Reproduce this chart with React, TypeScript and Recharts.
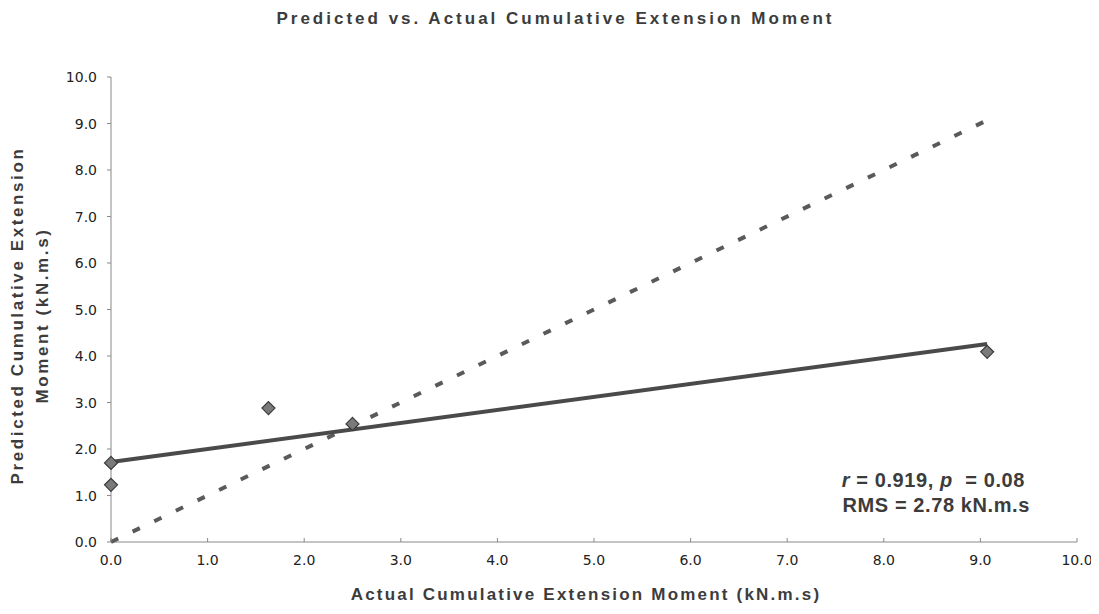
import React from 'react';
import { ScatterChart, Scatter, XAxis, YAxis } from 'recharts';

// measured moments (kN.m.s)
const actualMoment = [0, 0, 1.63, 2.5, 9.07];
const predictedMoment = [1.23, 1.7, 2.88, 2.54, 4.09];

// least-squares fit end points and the line of identity
const fitX = [0, 9.07];
const fitY = [1.72, 4.26];
const identityX = [0, 9.1];
const identityY = [0, 9.1];

const axisTicks = [0, 1, 2, 3, 4, 5, 6, 7, 8, 9, 10];

const chartTitle = 'Predicted vs. Actual Cumulative Extension Moment';
const xTitle = 'Actual Cumulative Extension Moment (kN.m.s)';
const yTitleLines = ['Predicted Cumulative Extension', 'Moment (kN.m.s)'];
const statsLine = 'RMS = 2.78 kN.m.s';

const toPoints = (xs: number[], ys: number[]) => xs.map((x, i) => ({ x, y: ys[i] }));

const measured = toPoints(actualMoment, predictedMoment);
const fitLine = toPoints(fitX, fitY);
const identityLine = toPoints(identityX, identityY);

const INK = '#3c3c3c';
const BOLD = 'Liberation Sans, Arial, sans-serif';
const W = 1091;
const H = 598;

const NoDot = () => <g />;

// square marker turned on its corner
const Diamond = (props: any) => {
  const { cx, cy } = props;
  const r = 6.5;
  return (
    <polygon
      points={`${cx},${cy - r} ${cx + r},${cy} ${cx},${cy + r} ${cx - r},${cy}`}
      fill="#7a7a7a"
      stroke="#3a3a3a"
      strokeWidth={1.2}
    />
  );
};

const XTick = (props: any) => {
  const { x, y, payload } = props;
  return (
    <g>
      <line x1={x} y1={y} x2={x} y2={y - 4} stroke="#888" />
      <text x={x} y={y + 23} textAnchor="middle" fontSize={14} fill="#222" fontFamily="DejaVu Sans">
        {payload.value.toFixed(1)}
      </text>
    </g>
  );
};

const YTick = (props: any) => {
  const { x, y, payload } = props;
  return (
    <text x={x} y={y + 5} textAnchor="end" fontSize={14} fill="#222" fontFamily="DejaVu Sans">
      {payload.value.toFixed(1)}
    </text>
  );
};

const XTitle = (props: any) => {
  const vb = props.viewBox;
  return (
    <text
      x={vb.x + vb.width / 2 - 8}
      y={592}
      textAnchor="middle"
      fontSize={17}
      fontWeight="bold"
      fill={INK}
      fontFamily={BOLD}
      letterSpacing={2.2}
    >
      {xTitle}
    </text>
  );
};

const YTitle = (props: any) => {
  const vb = props.viewBox;
  const cy = vb.y + vb.height / 2 + 6;
  return (
    <g transform={`rotate(-90, 0, ${cy})`}>
      {yTitleLines.map((line, i) => (
        <text
          key={line}
          x={0}
          y={cy + 15 + i * 25}
          textAnchor="middle"
          fontSize={17}
          fontWeight="bold"
          fill={INK}
          fontFamily={BOLD}
          letterSpacing={2.6}
        >
          {line}
        </text>
      ))}
    </g>
  );
};

export default function App() {
  return (
    <div style={{ position: 'relative', width: W, height: H, background: '#fff' }}>
      <div
        style={{
          position: 'absolute',
          top: 1,
          left: 2,
          width: W,
          textAlign: 'center',
          fontFamily: BOLD,
          fontWeight: 'bold',
          fontSize: 17,
          letterSpacing: 3,
          color: INK,
        }}
      >
        {chartTitle}
      </div>
      <ScatterChart width={W} height={H} margin={{ top: 69, right: 22, left: 43, bottom: 34 }}>
        <XAxis
          type="number"
          dataKey="x"
          domain={[0, 10]}
          ticks={axisTicks}
          interval={0}
          tickSize={0}
          tickMargin={0}
          tickLine={false}
          tick={<XTick />}
          axisLine={{ stroke: '#888' }}
          height={30}
          label={{ content: <XTitle /> }}
        />
        <YAxis
          type="number"
          dataKey="y"
          domain={[0, 10]}
          ticks={axisTicks}
          interval={0}
          width={60}
          tickSize={4}
          tickMargin={10}
          tick={<YTick />}
          tickLine={{ stroke: '#888' }}
          axisLine={{ stroke: '#888' }}
          label={{ content: <YTitle /> }}
        />
        <Scatter
          data={identityLine}
          line={{ stroke: '#5a5a5a', strokeWidth: 4, strokeDasharray: '8 16' }}
          shape={<NoDot />}
          isAnimationActive={false}
        />
        <Scatter
          data={fitLine}
          line={{ stroke: '#4a4a4a', strokeWidth: 4 }}
          shape={<NoDot />}
          isAnimationActive={false}
        />
        <Scatter data={measured} shape={<Diamond />} isAnimationActive={false} />
      </ScatterChart>
      <div
        style={{
          position: 'absolute',
          right: 69,
          top: 460,
          textAlign: 'right',
          fontFamily: BOLD,
          fontWeight: 'bold',
          fontSize: 20,
          lineHeight: '25px',
          color: INK,
          letterSpacing: 0.6,
        }}
      >
        <div style={{ paddingRight: 5 }}>
          <i>r</i> = 0.919, <i>p</i>&nbsp; = 0.08
        </div>
        <div>{statsLine}</div>
      </div>
    </div>
  );
}
